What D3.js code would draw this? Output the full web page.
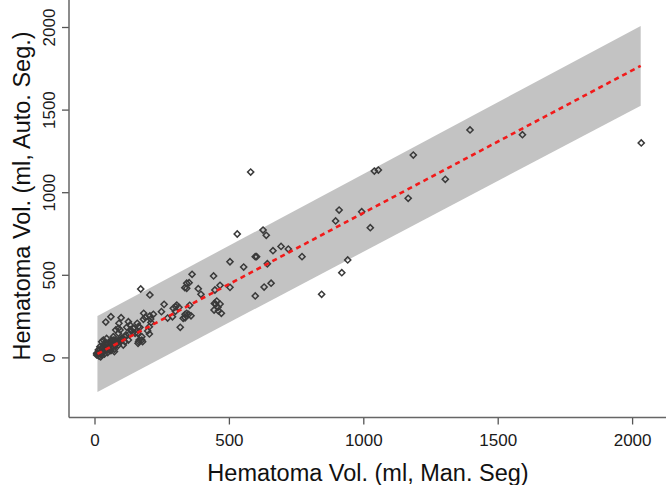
<!DOCTYPE html>
<html><head><meta charset="utf-8">
<script src="https://cdn.jsdelivr.net/npm/d3@7"></script>
<style>body{margin:0;background:#fff}svg{display:block}text{font-family:"Liberation Sans",Arial,Helvetica,sans-serif}</style>
</head><body>
<script>
// ----- data (ml) -----
const manSeg = [2034,1397,1592,1305,1186,1041,1056,1167,581,910,897,994,1026,531,627,639,694,721,664,598,603,772,504,555,643,942,920,504,631,657,598,845,
363,443,343,352,336,386,396,467,448,259,306,293,249,301,354,337,350,359,455,467,446,445,459,472,206,219,209,272,330,319,
172,61,42,99,302,183,189,210,204,159,169,163,290,337,91,89,79,126,132,120,144,138,161,176,179,166,198,204,343,314,343,451,461,206,182,164,176,162,135,142,147,151,128,
95,89,101,117,126,113,107,95,83,64,70,58,76,45,33,27,
14,20,12,27,33,39,45,51,58,64,70,76,83,89,95,101,107,113,42,54,66,79,89,27,37,23,49,61,74,8,17,14,20,8,27,39,51,64,74,20,33,45,39];
const autoSeg = [1298,1377,1348,1078,1225,1128,1134,963,1122,892,826,882,785,747,771,739,672,656,646,610,610,610,579,547,567,590,513,424,426,449,372,382,
503,493,449,452,422,416,382,436,408,321,317,297,277,279,315,261,261,252,341,323,327,287,303,267,378,261,232,238,237,182,
414,246,214,240,307,267,243,212,186,206,182,186,246,240,206,176,166,216,196,182,176,160,146,125,95,105,160,142,418,303,267,323,281,251,231,95,105,85,166,150,176,146,140,
166,146,116,136,105,95,75,101,95,105,125,85,75,75,75,95,
25,45,15,55,35,65,75,85,95,85,105,105,95,105,95,105,115,125,45,55,65,75,75,15,20,4,29,41,49,25,8,45,25,15,35,55,45,55,35,65,105,115,85];
// fitted line and prediction band
const fitX = [11, 2032];
const fitY = [21, 1765];
const bandUpper = [251, 2006];
const bandLower = [-209, 1524];
const xTicks = [0, 500, 1000, 1500, 2000];
const yTicks = [0, 500, 1000, 1500, 2000];
const xTitle = "Hematoma Vol. (ml, Man. Seg)";
const yTitle = "Hematoma Vol. (ml, Auto. Seg.)";

const W = 666, H = 485;
const axX = 69, axY = 417.5;
const x = d3.scaleLinear().domain([0, 2000]).range([94.5, 632.1]);
const y = d3.scaleLinear().domain([0, 2000]).range([357.4, 27]);

const svg = d3.select("body").append("svg").attr("width", W).attr("height", H);

// band
const band = fitX.map((v, i) => ({x: v, lo: bandLower[i], hi: bandUpper[i]}));
svg.append("path").datum(band)
  .attr("d", d3.area().x(d => x(d.x)).y0(d => y(d.lo)).y1(d => y(d.hi)))
  .attr("fill", "#c3c3c3");

// points
const pts = manSeg.map((v, i) => ({x: v, y: autoSeg[i]}));
const sym = d3.symbol().type(d3.symbolSquare).size(19);
svg.append("g").selectAll("path").data(pts).join("path")
  .attr("d", sym)
  .attr("transform", d => `translate(${x(d.x)},${y(d.y)}) rotate(45)`)
  .attr("fill", "none").attr("stroke", "#3a3a3a").attr("stroke-width", 1.5);

// fitted line
const fit = fitX.map((v, i) => ({x: v, y: fitY[i]}));
svg.append("path").datum(fit)
  .attr("d", d3.line().x(d => x(d.x)).y(d => y(d.y)))
  .attr("fill", "none").attr("stroke", "#f21a1a").attr("stroke-width", 2.6)
  .attr("stroke-dasharray", "5,4");

// axes
const gx = svg.append("g").attr("transform", `translate(0,${axY})`)
  .call(d3.axisBottom(x).tickValues(xTicks).tickSize(7).tickPadding(9).tickFormat(d3.format("d")));
gx.select(".domain").remove();
gx.append("line").attr("x1", axX).attr("x2", W).attr("stroke", "#666").attr("stroke-width", 1.5);
gx.selectAll(".tick line").attr("stroke", "#555").attr("stroke-width", 1.3);
gx.selectAll(".tick text").attr("font-size", 17).attr("fill", "#1a1a1a")
  .attr("font-family", '"Liberation Sans",Arial,sans-serif');

const gy = svg.append("g").attr("transform", `translate(${axX},0)`)
  .call(d3.axisLeft(y).tickValues(yTicks).tickSize(7).tickFormat(d3.format("d")));
gy.select(".domain").remove();
gy.append("line").attr("y1", 0).attr("y2", axY).attr("stroke", "#666").attr("stroke-width", 1.5);
gy.selectAll(".tick line").attr("stroke", "#555").attr("stroke-width", 1.3);
gy.selectAll(".tick text")
  .attr("font-size", 17).attr("fill", "#1a1a1a")
  .attr("font-family", '"Liberation Sans",Arial,sans-serif')
  .attr("text-anchor", "middle").attr("x", null).attr("dy", null)
  .attr("transform", "translate(-14,0) rotate(-90)");

// titles
svg.append("text").attr("x", 368).attr("y", 481).attr("text-anchor", "middle")
  .attr("font-size", 23.5).attr("fill", "#111").text(xTitle);
svg.append("text").attr("transform", "translate(30,196) rotate(-90)").attr("text-anchor", "middle")
  .attr("font-size", 23.5).attr("fill", "#111").text(yTitle);
</script>
</body></html>
